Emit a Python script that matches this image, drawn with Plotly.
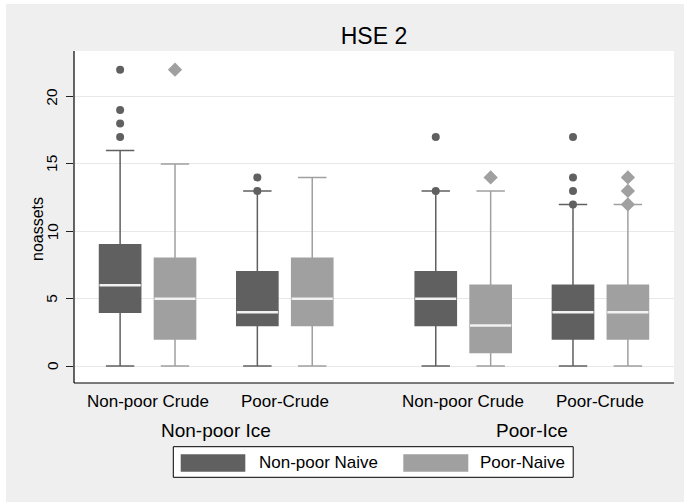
import plotly.graph_objects as go

# ---- data -------------------------------------------------------------
ice_groups = ["Non-poor Ice", "Poor-Ice"]
crude_groups = ["Non-poor Crude", "Poor-Crude"]
series_names = ["Non-poor Naive", "Poor-Naive"]

# box statistics, cells ordered: (Non-poor Ice: Non-poor Crude, Poor-Crude),
#                                (Poor-Ice: Non-poor Crude, Poor-Crude)
nonpoor_q1 = [4, 3, 3, 2]
nonpoor_median = [6, 4, 5, 4]
nonpoor_q3 = [9, 7, 7, 6]
nonpoor_lower = [0, 0, 0, 0]
nonpoor_upper = [16, 13, 13, 12]
nonpoor_outliers = [[17, 18, 19, 22], [13, 14], [13, 17], [12, 13, 14, 17]]

poor_q1 = [2, 3, 1, 2]
poor_median = [5, 5, 3, 4]
poor_q3 = [8, 8, 6, 6]
poor_lower = [0, 0, 0, 0]
poor_upper = [15, 14, 13, 12]
poor_outliers = [[22], [], [14], [12, 13, 14]]

y_ticks = [0, 5, 10, 15, 20]

# ---- layout constants -------------------------------------------------
W, H = 684, 502
L, R, T, B = 74, 10, 51, 119
PW, PH = W - L - R, H - T - B

EDGE, PAIR_GAP, GROUP_GAP = 1.34, 2.5, 3.25
BOX_OFFSET, BOX_W = 0.5, 0.75
Y_RANGE = [-1.262, 23.39]

DARK, LIGHT = "#606060", "#a0a0a0"
BG = "#efefef"
FONT = "Liberation Sans, Arial, sans-serif"

# centre of each (ice, crude) cell on the numeric x axis
cell_centers = []
pos = EDGE
for g in range(len(ice_groups)):
    for c in range(len(crude_groups)):
        cell_centers.append(pos)
        if c < len(crude_groups) - 1:
            pos += PAIR_GAP
    pos += GROUP_GAP
x_max = cell_centers[-1] + EDGE


def px_x(p):
    return (p - L) / PW


def px_y(p):
    return (H - B - p) / PH


series = [
    dict(name=series_names[0], color=DARK, off=-BOX_OFFSET, symbol="circle", msize=8,
         q1=nonpoor_q1, med=nonpoor_median, q3=nonpoor_q3,
         lo=nonpoor_lower, hi=nonpoor_upper, out=nonpoor_outliers),
    dict(name=series_names[1], color=LIGHT, off=BOX_OFFSET, symbol="diamond", msize=11,
         q1=poor_q1, med=poor_median, q3=poor_q3,
         lo=poor_lower, hi=poor_upper, out=poor_outliers),
]

fig = go.Figure()

for s in series:
    xs = [c + s["off"] for c in cell_centers]
    fig.add_trace(go.Box(
        x=xs, q1=s["q1"], median=s["med"], q3=s["q3"],
        lowerfence=s["lo"], upperfence=s["hi"],
        width=BOX_W, whiskerwidth=0.69,
        fillcolor=s["color"], line=dict(color=s["color"], width=1.5),
        boxpoints=False, name=s["name"], showlegend=False, hoverinfo="skip",
    ))
    # white median bar across each box
    mx, my = [], []
    for x, m in zip(xs, s["med"]):
        mx += [x - BOX_W / 2, x + BOX_W / 2, None]
        my += [m, m, None]
    fig.add_trace(go.Scatter(x=mx, y=my, mode="lines",
                             line=dict(color="#f2f2f2", width=2.5),
                             showlegend=False, hoverinfo="skip"))
    # outside values
    ox, oy = [], []
    for x, vals in zip(xs, s["out"]):
        ox += [x] * len(vals)
        oy += vals
    fig.add_trace(go.Scatter(x=ox, y=oy, mode="markers",
                             marker=dict(color=s["color"], symbol=s["symbol"],
                                         size=s["msize"], line=dict(width=0)),
                             showlegend=False, hoverinfo="skip"))

annotations = []
# y tick labels, rotated
for v in y_ticks:
    annotations.append(dict(x=px_x(52), y=v, xref="paper", yref="y",
                            text=str(v), showarrow=False, textangle=-90,
                            font=dict(size=15.5, color="black", family=FONT),
                            xanchor="center", yanchor="middle"))
# crude labels under each cell
for i, c in enumerate(cell_centers):
    annotations.append(dict(x=c, y=px_y(401), xref="x", yref="paper",
                            text=crude_groups[i % len(crude_groups)], showarrow=False,
                            font=dict(size=17, color="black", family=FONT),
                            xanchor="center", yanchor="middle"))
# ice group labels
n_c = len(crude_groups)
for g, name in enumerate(ice_groups):
    gc = (cell_centers[g * n_c] + cell_centers[g * n_c + n_c - 1]) / 2
    annotations.append(dict(x=gc, y=px_y(430), xref="x", yref="paper",
                            text=name, showarrow=False,
                            font=dict(size=19, color="black", family=FONT),
                            xanchor="center", yanchor="middle"))
# y axis title
annotations.append(dict(x=px_x(37), y=px_y(229), xref="paper", yref="paper",
                        text="noassets", showarrow=False, textangle=-90,
                        font=dict(size=16, color="black", family=FONT),
                        xanchor="center", yanchor="middle"))

shapes = [
    # thin white margin strips along the left and top edges
    dict(type="rect", xref="paper", yref="paper",
         x0=px_x(0), x1=px_x(6), y0=px_y(H), y1=px_y(0),
         fillcolor="white", line=dict(width=0)),
    dict(type="rect", xref="paper", yref="paper",
         x0=px_x(0), x1=px_x(W), y0=px_y(4), y1=px_y(0),
         fillcolor="white", line=dict(width=0)),
    # axis lines: left and bottom only
    dict(type="line", xref="paper", yref="paper", x0=0, x1=0, y0=0, y1=1,
         line=dict(color="black", width=1.2)),
    dict(type="line", xref="paper", yref="paper", x0=0, x1=1, y0=0, y1=0,
         line=dict(color="black", width=1.2)),
    # legend frame
    dict(type="rect", xref="paper", yref="paper",
         x0=px_x(173.3), x1=px_x(573.2), y0=px_y(477.3), y1=px_y(446.7),
         fillcolor="white", line=dict(color="black", width=1)),
]
legend_keys = [(180.7, 245.3, 257.3), (403.3, 468.3, 478.3)]
for s, (k0, k1, tx) in zip(series, legend_keys):
    shapes.append(dict(type="rect", xref="paper", yref="paper",
                       x0=px_x(k0), x1=px_x(k1), y0=px_y(471.7), y1=px_y(454.3),
                       fillcolor=s["color"], line=dict(width=0)))
    annotations.append(dict(x=px_x(tx), y=px_y(463), xref="paper", yref="paper",
                            text=s["name"], showarrow=False,
                            font=dict(size=17, color="black", family=FONT),
                            xanchor="left", yanchor="middle"))

fig.update_layout(
    width=W, height=H, autosize=False,
    margin=dict(l=L, r=R, t=T, b=B, pad=0),
    paper_bgcolor=BG, plot_bgcolor="white",
    font=dict(family=FONT, color="black"),
    title=dict(text="HSE 2", x=px_x(374), xref="paper", xanchor="center",
               y=1 - 36 / H, yref="container", yanchor="middle",
               font=dict(size=23, color="black", family=FONT)),
    xaxis=dict(range=[0, x_max], showgrid=False, zeroline=False,
               showticklabels=False, ticks="", showline=False),
    yaxis=dict(range=Y_RANGE, tickvals=y_ticks, showticklabels=False,
               showgrid=True, gridcolor="#e8e8e8", gridwidth=1, zeroline=False,
               ticks="outside", ticklen=7, tickwidth=1.2, tickcolor="#222",
               showline=False),
    shapes=shapes, annotations=annotations, showlegend=False,
)

fig.write_html("out.html")
